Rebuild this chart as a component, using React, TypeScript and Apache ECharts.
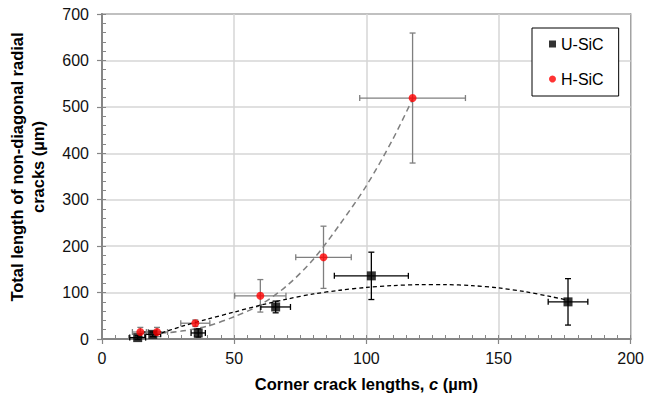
import React, { useEffect, useRef } from "react";
import * as echarts from "echarts";

// ---- data ----
const uX = [13.5, 19.2, 36.4, 65.7, 101.9, 176.3];
const uY = [3, 10, 13, 69, 136, 80];
const uXErr = [3, 3, 2.7, 5.6, 14, 7.5];
const uYErr = [4, 5, 9, 12.6, 51, 50];

const hX = [14.5, 20.8, 35.3, 59.9, 83.8, 117.5];
const hY = [15, 15, 34, 93, 176, 519];
const hXErr = [3, 4, 5.5, 9.7, 10.5, 20];
const hYErr = [10, 10, 7, 35, 67, 140];

const uTrendX = [20, 30, 40, 50, 60, 70, 80, 90, 100, 110, 120, 130, 140, 150, 160, 170, 176];
const uTrendY = [8, 27, 43, 58, 73, 86, 97, 105, 111, 115, 117, 117, 115, 110, 102, 91, 84];

const hTrendX = [14.5, 20, 30, 40, 50, 60, 70, 80, 90, 100, 110, 117.5];
const hTrendY = [12, 12, 17, 28, 48, 74, 115, 172, 247, 330, 430, 517];

const xTicks = [0, 50, 100, 150, 200];
const yTicks = [0, 100, 200, 300, 400, 500, 600, 700];

const seriesNames = ["U-SiC", "H-SiC"];
const xTitle = "Corner crack lengths, {i|c} (µm)";
const yTitle = "Total length of non-diagonal radial\ncracks (µm)";

const FONT = "'Liberation Sans', Arial, sans-serif";

function errorBarRenderer(color: string) {
  return (params: any, api: any) => {
    const x = api.value(0);
    const y = api.value(1);
    const ex = api.value(2);
    const ey = api.value(3);
    const c = api.coord([x, y]);
    const l = api.coord([x - ex, y]);
    const r = api.coord([x + ex, y]);
    const t = api.coord([x, y + ey]);
    const b = api.coord([x, y - ey]);
    const cap = 3;
    const style = { stroke: color, lineWidth: 1.3 };
    return {
      type: "group",
      children: [
        { type: "line", shape: { x1: l[0], y1: c[1], x2: r[0], y2: c[1] }, style },
        { type: "line", shape: { x1: l[0], y1: c[1] - cap, x2: l[0], y2: c[1] + cap }, style },
        { type: "line", shape: { x1: r[0], y1: c[1] - cap, x2: r[0], y2: c[1] + cap }, style },
        { type: "line", shape: { x1: c[0], y1: t[1], x2: c[0], y2: b[1] }, style },
        { type: "line", shape: { x1: c[0] - cap, y1: t[1], x2: c[0] + cap, y2: t[1] }, style },
        { type: "line", shape: { x1: c[0] - cap, y1: b[1], x2: c[0] + cap, y2: b[1] }, style },
      ],
    };
  };
}

export default function App() {
  const ref = useRef<HTMLDivElement>(null);
  useEffect(() => {
    if (!ref.current) return;
    const chart = echarts.init(ref.current, undefined, { renderer: "svg" });
    const xMin = xTicks[0];
    const xMax = xTicks[xTicks.length - 1];
    const xStep = xTicks[1] - xTicks[0];
    const yMin = yTicks[0];
    const yMax = yTicks[yTicks.length - 1];
    const yStep = yTicks[1] - yTicks[0];
    const axisGray = "#868686";
    const gridGray = "#d6d6d6";
    const labelStyle = { color: "#111", fontSize: 16, fontFamily: FONT };

    chart.setOption({
      animation: false,
      backgroundColor: "#fff",
      grid: {
        left: 102,
        right: 14,
        top: 14,
        bottom: 58,
        show: true,
        borderColor: "#000",
        borderWidth: 1.2,
      },
      legend: {
        left: 532,
        top: 28,
        orient: "vertical",
        data: [
          { name: seriesNames[0], icon: "rect" },
          { name: seriesNames[1], icon: "circle" },
        ],
        itemWidth: 7,
        itemHeight: 7,
        itemGap: 19,
        padding: [8, 15, 9, 17],
        borderColor: "#000",
        borderWidth: 1,
        backgroundColor: "#fff",
        textStyle: { fontSize: 16, color: "#000", fontFamily: FONT },
      },
      xAxis: [
        {
          type: "value",
          min: xMin,
          max: xMax,
          interval: xStep,
          position: "bottom",
          name: xTitle,
          nameLocation: "middle",
          nameGap: 36,
          nameTextStyle: {
            fontSize: 16.5,
            fontWeight: "bold",
            color: "#000",
            fontFamily: FONT,
            rich: {
              i: { fontSize: 16.5, fontWeight: "bold", fontStyle: "italic", color: "#000", fontFamily: FONT },
            },
          },
          axisLine: { show: true, onZero: false, lineStyle: { color: axisGray, width: 2 } },
          axisTick: { show: true, inside: false, length: 5, lineStyle: { color: axisGray, width: 1.2 } },
          axisLabel: { ...labelStyle, margin: 11 },
          splitLine: { show: true, lineStyle: { color: gridGray, width: 1.5 } },
        },
        {
          type: "value",
          min: xMin,
          max: xMax,
          interval: 5,
          position: "bottom",
          axisLine: { show: false },
          axisTick: { show: true, inside: true, length: 4, lineStyle: { color: axisGray, width: 1 } },
          axisLabel: { show: false },
          splitLine: { show: false },
        },
      ],
      yAxis: [
        {
          type: "value",
          min: yMin,
          max: yMax,
          interval: yStep,
          position: "left",
          axisLine: { show: true, onZero: false, lineStyle: { color: axisGray, width: 2 } },
          axisTick: { show: true, inside: false, length: 5, lineStyle: { color: axisGray, width: 1.2 } },
          axisLabel: { ...labelStyle, margin: 13 },
          splitLine: { show: true, lineStyle: { color: gridGray, width: 1.5 } },
        },
        {
          type: "value",
          min: yMin,
          max: yMax,
          interval: 20,
          position: "left",
          axisLine: { show: false },
          axisTick: { show: true, inside: true, length: 4, lineStyle: { color: axisGray, width: 1 } },
          axisLabel: { show: false },
          splitLine: { show: false },
        },
      ],
      graphic: [
        {
          type: "text",
          x: 27.5,
          y: 167,
          rotation: Math.PI / 2,
          style: {
            text: yTitle,
            fontSize: 16.5,
            fontWeight: "bold",
            fill: "#000",
            fontFamily: FONT,
            align: "center",
            verticalAlign: "middle",
            lineHeight: 21,
          },
        },
      ],
      series: [
        {
          name: "H-SiC err",
          type: "custom",
          renderItem: errorBarRenderer("#7f7f7f"),
          data: hX.map((x, i) => [x, hY[i], hXErr[i], hYErr[i]]),
          z: 2,
          silent: true,
        },
        {
          name: "U-SiC err",
          type: "custom",
          renderItem: errorBarRenderer("#000"),
          data: uX.map((x, i) => [x, uY[i], uXErr[i], uYErr[i]]),
          z: 2,
          silent: true,
        },
        {
          name: "H-SiC trend",
          type: "line",
          data: hTrendX.map((x, i) => [x, hTrendY[i]]),
          showSymbol: false,
          smooth: 0.3,
          lineStyle: { color: "#7f7f7f", width: 1.5, type: [6, 4] },
          z: 3,
          silent: true,
        },
        {
          name: "U-SiC trend",
          type: "line",
          data: uTrendX.map((x, i) => [x, uTrendY[i]]),
          showSymbol: false,
          smooth: 0.3,
          lineStyle: { color: "#000", width: 1.3, type: [4, 3] },
          z: 3,
          silent: true,
        },
        {
          name: seriesNames[0],
          type: "scatter",
          data: uX.map((x, i) => [x, uY[i]]),
          symbol: "rect",
          symbolSize: 9,
          itemStyle: { color: "#000" },
          z: 4,
        },
        {
          name: seriesNames[1],
          type: "scatter",
          data: hX.map((x, i) => [x, hY[i]]),
          symbol: "circle",
          symbolSize: 8,
          itemStyle: { color: "#ff0000" },
          z: 5,
        },
      ],
    });
    return () => chart.dispose();
  }, []);
  return (
    <div
      ref={ref}
      style={{ position: "absolute", left: 0, top: 0, width: 647, height: 397 }}
    />
  );
}
